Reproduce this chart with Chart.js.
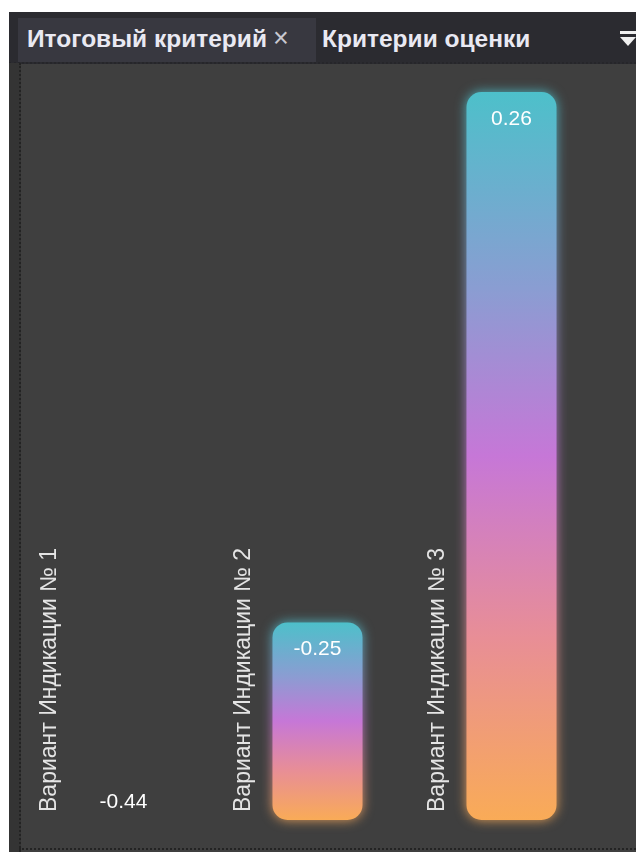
<!DOCTYPE html>
<html>
<head>
<meta charset="utf-8">
<script src="https://cdn.jsdelivr.net/npm/chart.js@4"></script>
<style>
  body { margin: 0; background: #fff; width: 636px; height: 852px; overflow: hidden; position: relative; font-family: "Liberation Sans", Arial, sans-serif; }
  #panel { position: absolute; left: 9px; top: 12px; width: 627px; height: 840px; background: #3f3f3f; }
  #strip { position: absolute; left: 9px; top: 63px; width: 10px; height: 789px; background: #343434; border-right: 2px dotted #232323; }
  #header { position: absolute; left: 9px; top: 12px; width: 627px; height: 50px; background: #2b2b30; border-bottom: 2px dotted #26262a; }
  #tab1 { position: absolute; left: 18px; top: 18px; width: 298px; height: 44px; background: #383840; }
  .tabtxt { position: absolute; top: 24px; font-weight: bold; font-size: 24.5px; line-height: 29px; color: #e9e9f2; white-space: nowrap; }
  #close { position: absolute; left: 273px; top: 23px; font-size: 27px; line-height: 31px; color: #c8c8d0; }
  #bottomline { position: absolute; left: 19px; top: 848px; width: 617px; height: 0; border-top: 2px dotted #232323; }
  #ficon1 { position: absolute; left: 620px; top: 31px; width: 18px; height: 3px; background: #f0f0f0; }
  #ficon2 { position: absolute; left: 620px; top: 37px; width: 0; height: 0; border-left: 8px solid transparent; border-right: 8px solid transparent; border-top: 9px solid #f0f0f0; }
  #wrap { position: absolute; left: 0; top: 0; width: 636px; height: 852px; }
</style>
</head>
<body>
<div id="panel"></div>
<div id="header"></div>
<div id="tab1"></div>
<div id="strip"></div>
<div class="tabtxt" style="left:27px">Итоговый критерий</div>
<div id="close">×</div>
<div class="tabtxt" style="left:322px">Критерии оценки</div>
<div id="ficon1"></div>
<div id="ficon2"></div>
<div id="bottomline"></div>
<div id="wrap"><canvas id="chart"></canvas></div>

<script>
// data
const categories = ["Вариант Индикации № 1", "Вариант Индикации № 2", "Вариант Индикации № 3"];
const values = [-0.44, -0.25, 0.26];
const valueLabels = ["-0.44", "-0.25", "0.26"];
const axisMin = -0.44;
const axisMax = 0.26;

// gradient per bar, teal on top -> violet -> orange at bottom
function barGradient(ctx) {
  const chart = ctx.chart;
  if (!chart.chartArea || ctx.dataIndex === undefined) return "#c778d6";
  const y = chart.scales.y;
  const top = y.getPixelForValue(values[ctx.dataIndex]);
  const bottom = y.getPixelForValue(axisMin);
  if (bottom - top < 1) return "#f8a95a";
  const g = chart.ctx.createLinearGradient(0, top, 0, bottom);
  g.addColorStop(0, "#4dc0ca");
  g.addColorStop(0.27, "#8a9dd2");
  g.addColorStop(0.5, "#c677d7");
  g.addColorStop(0.75, "#e88e96");
  g.addColorStop(1, "#f9ab57");
  return g;
}

// soft glow behind the bars
const glowPlugin = {
  id: "glow",
  beforeDatasetsDraw(chart) {
    const ctx = chart.ctx;
    chart.getDatasetMeta(0).data.forEach(el => {
      if (Math.abs(el.base - el.y) < 1) return;
      ctx.save();
      ctx.filter = "blur(6px)";
      ctx.globalAlpha = 0.9;
      el.draw(ctx);
      ctx.restore();
    });
  }
};

// value labels inside bars + rotated category labels
const labelPlugin = {
  id: "labels",
  afterDatasetsDraw(chart) {
    const ctx = chart.ctx;
    const meta = chart.getDatasetMeta(0);
    meta.data.forEach((el, i) => {
      ctx.save();
      ctx.fillStyle = "#ffffff";
      ctx.font = "21px 'Liberation Sans', Arial, sans-serif";
      ctx.textAlign = "center";
      ctx.textBaseline = "middle";
      const ly = Math.min(el.y + 27, el.base - 18);
      ctx.fillText(valueLabels[i], el.x, ly);
      ctx.restore();

      ctx.save();
      ctx.translate(el.x - 74, el.base - 8);
      ctx.rotate(-Math.PI / 2);
      ctx.fillStyle = "#e4e4e4";
      ctx.font = "23px 'Liberation Sans', Arial, sans-serif";
      ctx.textAlign = "left";
      ctx.textBaseline = "middle";
      ctx.fillText(categories[i], 0, 0);
      ctx.restore();
    });
  }
};

new Chart(document.getElementById("chart"), {
  type: "bar",
  data: {
    labels: categories,
    datasets: [{
      data: values,
      base: axisMin,
      backgroundColor: barGradient,
      borderRadius: 15,
      borderSkipped: false,
      barPercentage: 0.464,
      categoryPercentage: 1
    }]
  },
  options: {
    responsive: true,
    maintainAspectRatio: false,
    animation: false,
    layout: { padding: { left: 26.5, right: 27.5, top: 92, bottom: 32 } },
    plugins: { legend: { display: false }, tooltip: { enabled: false } },
    scales: {
      x: { display: false },
      y: { display: false, min: axisMin, max: axisMax }
    }
  },
  plugins: [glowPlugin, labelPlugin]
});
</script>
</body>
</html>
